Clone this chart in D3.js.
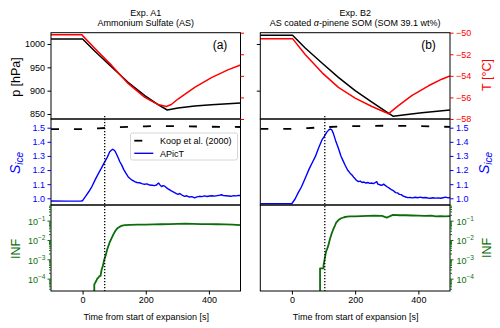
<!DOCTYPE html>
<html><head><meta charset="utf-8">
<script src="https://cdn.jsdelivr.net/npm/d3@7"></script>
<style>body{margin:0;background:#fff}svg{display:block;font-family:"Liberation Sans",Arial,Helvetica,sans-serif}</style>
</head><body><svg id="c" width="500" height="328"></svg>
<script>
// ---------- data ----------
const titlesA = ["Exp. A1", "Ammonium Sulfate (AS)"];
const titlesB = ["Exp. B2", "AS coated α-pinene SOM (SOM 39.1 wt%)"];
const panelTags = ["(a)", "(b)"];
const xTicks = [0, 200, 400];
const pTicksA = [850, 900, 950, 1000];
const pTicksB = [900, 1000];
const tTicks = [-58, -56, -54, -52, -50];
const sTicks = [1.0, 1.1, 1.2, 1.3, 1.4, 1.5];
const infTicks = [1e-4, 1e-3, 1e-2, 1e-1];
const legendLabels = ["Koop et al. (2000)", "APicT"];
const dashedLineTimes = [70, 104];

// Exp A1 pressure & temperature
const tA_p = [-100, 0, 39, 92, 144, 197, 239, 268, 302, 355, 408, 500];
const pA   = [1010.7, 1010.7, 984.3, 950.7, 917.9, 889.2, 870, 858.6, 862.8, 867, 870, 873.8];
const tA_T = [-100, -3, 39, 92, 144, 197, 239, 265, 281, 302, 355, 408, 460, 500];
const TA   = [-50.18, -50.18, -51.47, -53.03, -54.7, -55.99, -56.66, -56.84, -56.66, -56.15, -55.07, -54.16, -53.45, -53.0];
// Exp B2 pressure & temperature
const tB_p = [-100, 2, 42, 95, 147, 200, 253, 305, 321, 358, 411, 500];
const pB   = [1018.6, 1018.6, 991.4, 959.3, 928.6, 900, 875.7, 852.1, 845, 848.5, 852.8, 858.6];
const tB_T = [-100, 2, 42, 95, 147, 200, 253, 295, 305, 337, 379, 432, 474, 500];
const TB   = [-50.55, -50.55, -52.02, -53.7, -55.07, -56.06, -56.84, -57.37, -57.52, -56.76, -55.83, -54.92, -54.31, -54.0];

// Koop et al. (2000) threshold
const tA_k = [-100, 0, 50, 100, 150, 200, 250, 300, 400, 500];
const kA   = [1.490, 1.490, 1.495, 1.502, 1.507, 1.510, 1.512, 1.511, 1.507, 1.505];
const tB_k = [-100, 0, 50, 100, 150, 200, 250, 300, 350, 400, 450, 500];
const kB   = [1.491, 1.491, 1.497, 1.503, 1.508, 1.511, 1.513, 1.514, 1.513, 1.511, 1.508, 1.506];

// APicT S_ice
const tA_s = [-100,-50,-5,0,10,20,30,40,50,60,70,78,86,91,95,99,103,108,113,118,124,130,137,144,150,157,165,172,180,188,196,204,212,220,228,234,238,241,245,250,255,260,265,272,281,290,297,302,308,315,323,330,338,346,355,362,370,378,386,394,402,410,418,426,434,440,446,454,462,470,478,486,494,500];
const sA   = [0.981,0.980,0.981,0.983,1.015,1.048,1.085,1.132,1.175,1.215,1.258,1.290,1.330,1.340,1.347,1.343,1.333,1.310,1.285,1.259,1.235,1.205,1.178,1.153,1.140,1.128,1.118,1.112,1.110,1.104,1.099,1.102,1.094,1.092,1.090,1.094,1.104,1.108,1.095,1.083,1.090,1.086,1.076,1.065,1.052,1.042,1.033,1.028,1.034,1.022,1.014,1.018,1.009,1.012,1.003,1.010,1.014,1.012,1.017,1.013,1.016,1.018,1.015,1.019,1.022,1.025,1.019,1.018,1.016,1.014,1.019,1.017,1.021,1.020];
const tB_s = [-100,-50,0,10,20,30,42,55,65,74,85,95,103,110,116,121,126,131,138,147,155,162,168,176,184,190,197,204,210,216,222,228,234,240,246,252,258,264,268,272,278,284,290,296,302,308,316,322,328,334,340,346,352,358,366,374,382,390,398,406,414,422,430,438,446,454,462,470,478,486,494,500];
const sB   = [0.962,0.962,0.963,0.995,1.040,1.080,1.142,1.210,1.255,1.295,1.360,1.413,1.440,1.467,1.483,1.491,1.485,1.460,1.410,1.354,1.300,1.265,1.236,1.200,1.178,1.165,1.145,1.128,1.118,1.122,1.112,1.115,1.108,1.112,1.106,1.108,1.104,1.112,1.118,1.100,1.096,1.092,1.100,1.090,1.080,1.072,1.059,1.052,1.040,1.038,1.028,1.026,1.015,1.011,1.005,1.006,1.003,1.007,1.004,1.008,1.004,1.006,1.002,1.000,1.004,1.001,1.003,1.000,1.004,1.008,1.003,1.006];

// INF
const tA_i = [37,37,39,44,47,50,53,57,60,65,68,74,79,85,92,98,104,110,118,125,134,150,175,200,225,250,275,300,325,350,375,400,425,450,475,500];
const iA   = [1e-6,5.0e-5,5.7e-5,8e-5,1.05e-4,1.1e-4,1.35e-4,1.4e-4,2.8e-4,5e-4,9e-4,1.8e-3,3.7e-3,7e-3,0.0123,0.020,0.030,0.040,0.049,0.055,0.058,0.060,0.062,0.062,0.064,0.065,0.066,0.068,0.069,0.068,0.066,0.066,0.065,0.064,0.063,0.058];
const tB_i = [89,89,100,100,103,108,114,121,125,130,135,140,148,156,165,174,185,200,220,240,260,285,300,310,320,340,360,380,400,420,440,455,470,485,500];
const iB   = [1e-6,3.4e-4,3.4e-4,5e-4,9.1e-4,2.5e-3,4.5e-3,0.0123,0.02,0.033,0.05,0.079,0.11,0.133,0.15,0.162,0.168,0.168,0.172,0.175,0.18,0.178,0.143,0.17,0.2,0.19,0.19,0.185,0.18,0.178,0.18,0.165,0.17,0.168,0.17];

// ---------- layout ----------
const RED = "#ff0000", BLUE = "#0000ff", GREEN = "#0b6e0b";
const KOOP_DASH = "8,15";
const svg = d3.select("#c");
const cols = [{x0: 51, x1: 240.5}, {x0: 260.3, x1: 450}];
const rows = {top: [32.7, 119], mid: [119, 205], bot: [205, 291]};
const zip = (a, b) => a.map((v, i) => [v, b[i]]);

const xs = cols.map(c => d3.scaleLinear().domain([-100, 500]).range([c.x0, c.x1]));
const yP = d3.scaleLinear().domain([839.3, 1024.2]).range([rows.top[1], rows.top[0]]);
const yT = d3.scaleLinear().domain([-58, -50]).range([rows.top[1], rows.top[0]]);
const yS = d3.scaleLinear().domain([0.9525, 1.5616]).range([rows.mid[1], rows.mid[0]]);
const yI = d3.scaleLog().domain([Math.pow(10, -4.64), Math.pow(10, -0.19)]).range([rows.bot[1], rows.bot[0]]);

const defs = svg.append("defs");
cols.forEach((c, ci) => {
  Object.entries(rows).forEach(([k, r]) => {
    defs.append("clipPath").attr("id", `clip${ci}${k}`).append("rect")
      .attr("x", c.x0).attr("y", r[0]).attr("width", c.x1 - c.x0).attr("height", r[1] - r[0]);
  });
});

function drawLine(ci, row, data, y, color, width, dash) {
  const x = xs[ci];
  const p = svg.append("path").datum(data)
    .attr("clip-path", `url(#clip${ci}${row})`)
    .attr("fill", "none").attr("stroke", color).attr("stroke-width", width)
    .attr("stroke-linejoin", "round")
    .attr("d", d3.line().x(d => x(d[0])).y(d => y(d[1])));
  if (dash) p.attr("stroke-dasharray", dash);
  return p;
}

function styleAxis(g, color, fs) {
  g.select(".domain").remove();
  g.selectAll(".tick line").attr("stroke", color).attr("stroke-width", 1);
  g.selectAll(".tick text").attr("fill", color).attr("font-size", fs || 9)
    .attr("font-family", '"Liberation Sans",Arial,sans-serif');
}
const minus = d => (d < 0 ? "\u2212" : "") + Math.abs(d);

// ---------- lines ----------
drawLine(0, "top", zip(tA_p, pA), yP, "#000", 1.5);
drawLine(0, "top", zip(tA_T, TA), yT, RED, 1.5);
drawLine(1, "top", zip(tB_p, pB), yP, "#000", 1.5);
drawLine(1, "top", zip(tB_T, TB), yT, RED, 1.5);
drawLine(0, "mid", zip(tA_k, kA), yS, "#000", 1.8, KOOP_DASH);
drawLine(0, "mid", zip(tA_s, sA), yS, BLUE, 1.4);
drawLine(1, "mid", zip(tB_k, kB), yS, "#000", 1.8, KOOP_DASH);
drawLine(1, "mid", zip(tB_s, sB), yS, BLUE, 1.4);
drawLine(0, "bot", zip(tA_i, iA), yI, GREEN, 1.8);
drawLine(1, "bot", zip(tB_i, iB), yI, GREEN, 1.8);

// dotted vertical lines
dashedLineTimes.forEach((t, ci) => {
  svg.append("line").attr("x1", xs[ci](t)).attr("x2", xs[ci](t))
    .attr("y1", rows.top[1] - 3).attr("y2", rows.bot[1])
    .attr("stroke", "#000").attr("stroke-width", 1.3).attr("stroke-dasharray", "1.3,1.7");
});

// ---------- frames ----------
cols.forEach(c => {
  Object.values(rows).forEach(r => {
    svg.append("rect").attr("x", c.x0).attr("y", r[0]).attr("width", c.x1 - c.x0).attr("height", r[1] - r[0])
      .attr("fill", "none").attr("stroke", "#000").attr("stroke-width", 1);
  });
});

// ---------- axes ----------
styleAxis(svg.append("g").attr("transform", `translate(${cols[0].x0},0)`)
  .call(d3.axisLeft(yP).tickValues(pTicksA).tickSize(3.5).tickPadding(2.5).tickFormat(d3.format("d"))), "#000");
styleAxis(svg.append("g").attr("transform", `translate(${cols[0].x1},0)`)
  .call(d3.axisRight(yT).tickValues(tTicks).tickSize(3.5).tickFormat("")), RED);
styleAxis(svg.append("g").attr("transform", `translate(${cols[1].x0},0)`)
  .call(d3.axisLeft(yP).tickValues(pTicksB).tickSize(3.5).tickFormat("")), "#000");
styleAxis(svg.append("g").attr("transform", `translate(${cols[1].x1},0)`)
  .call(d3.axisRight(yT).tickValues(tTicks).tickSize(3.5).tickPadding(2.5).tickFormat(minus)), RED);
styleAxis(svg.append("g").attr("transform", `translate(${cols[0].x0},0)`)
  .call(d3.axisLeft(yS).tickValues(sTicks).tickSize(3.5).tickPadding(2.5).tickFormat(d3.format(".1f"))), BLUE);
styleAxis(svg.append("g").attr("transform", `translate(${cols[1].x1},0)`)
  .call(d3.axisRight(yS).tickValues(sTicks).tickSize(3.5).tickPadding(2.5).tickFormat(d3.format(".1f"))), BLUE);
const [lo, hi] = yI.domain();
const minor = [];
for (let e = -6; e <= 0; e++) for (let m = 2; m <= 9; m++) { const v = m * Math.pow(10, e); if (v >= lo && v <= hi) minor.push(v); }
function infAxis(ci, right) {
  const x0 = right ? cols[ci].x1 : cols[ci].x0;
  styleAxis(svg.append("g").attr("transform", `translate(${x0},0)`)
    .call((right ? d3.axisRight(yI) : d3.axisLeft(yI)).tickValues(minor).tickSize(2).tickFormat("")), GREEN);
  styleAxis(svg.append("g").attr("transform", `translate(${x0},0)`)
    .call((right ? d3.axisRight(yI) : d3.axisLeft(yI)).tickValues(infTicks).tickSize(3.5).tickFormat("")), GREEN);
  infTicks.forEach(v => {
    const t = svg.append("text").attr("y", yI(v) + 4.5).attr("fill", GREEN).attr("font-size", 9)
      .attr("x", right ? x0 + 6.5 : x0 - 5.5).attr("text-anchor", right ? "start" : "end");
    t.append("tspan").text("10");
    t.append("tspan").attr("font-size", 6.5).attr("dy", -4).text("\u2212" + Math.round(-Math.log10(v)));
  });
}
infAxis(0, false);
infAxis(1, true);
cols.forEach((c, ci) => {
  styleAxis(svg.append("g").attr("transform", `translate(0,${rows.bot[1]})`)
    .call(d3.axisBottom(xs[ci]).tickValues(xTicks).tickSize(3.5).tickPadding(2.5).tickFormat(d3.format("d"))), "#000");
  svg.append("text").attr("x", (c.x0 + c.x1) / 2 + 0.5).attr("y", 320).attr("text-anchor", "middle")
    .attr("font-size", 9).text("Time from start of expansion [s]");
});

// ---------- titles ----------
[titlesA, titlesB].forEach((tt, ci) => {
  const cx = (cols[ci].x0 + cols[ci].x1) / 2;
  svg.append("text").attr("x", cx).attr("y", 16).attr("text-anchor", "middle").attr("font-size", 9).text(tt[0]);
  const t2 = svg.append("text").attr("x", cx).attr("y", 26).attr("text-anchor", "middle").attr("font-size", 9);
  if (tt[1].includes("α")) {
    const parts = tt[1].split("α");
    t2.append("tspan").text(parts[0]);
    t2.append("tspan").attr("font-style", "italic").text("α");
    t2.append("tspan").text(parts[1]);
  } else t2.text(tt[1]);
  svg.append("text").attr("x", ci === 0 ? 220 : 428.5).attr("y", 49).attr("text-anchor", "middle")
    .attr("font-size", 12).text(panelTags[ci]);
});

// ---------- axis labels ----------
function vlabel(x, y, color, build) {
  const t = svg.append("text").attr("transform", `translate(${x},${y}) rotate(-90)`)
    .attr("text-anchor", "middle").attr("fill", color).attr("font-size", 12.5);
  build(t);
}
vlabel(19.5, 77, "#000", t => t.text("p [hPa]"));
vlabel(491, 75, RED, t => t.text("T [°C]"));
const sice = t => {
  t.append("tspan").attr("font-style", "italic").attr("font-size", 14).text("S");
  t.append("tspan").attr("font-style", "italic").attr("font-size", 10).attr("dy", 3).text("ice");
};
vlabel(20, 163, BLUE, sice);
vlabel(489, 163, BLUE, sice);
vlabel(20, 249, GREEN, t => t.text("INF"));
vlabel(491, 248, GREEN, t => t.text("INF"));

// ---------- legend ----------
const lg = svg.append("g");
lg.append("rect").attr("x", 130.5).attr("y", 133).attr("width", 107).attr("height", 27)
  .attr("rx", 2).attr("fill", "#fff").attr("fill-opacity", 0.85).attr("stroke", "#cccccc").attr("stroke-width", 0.8);
const legColors = ["#000", BLUE];
legendLabels.forEach((lab, i) => {
  const y = 140.7 + i * 12.6;
  const l = lg.append("line").attr("x1", 134.3).attr("x2", 153.3).attr("y1", y).attr("y2", y)
    .attr("stroke", legColors[i]).attr("stroke-width", i === 0 ? 1.8 : 1.4);
  if (i === 0) l.attr("stroke-dasharray", KOOP_DASH);
  lg.append("text").attr("x", 160).attr("y", y + 3.3).attr("font-size", 9).text(lab);
});
</script>
</body></html>
